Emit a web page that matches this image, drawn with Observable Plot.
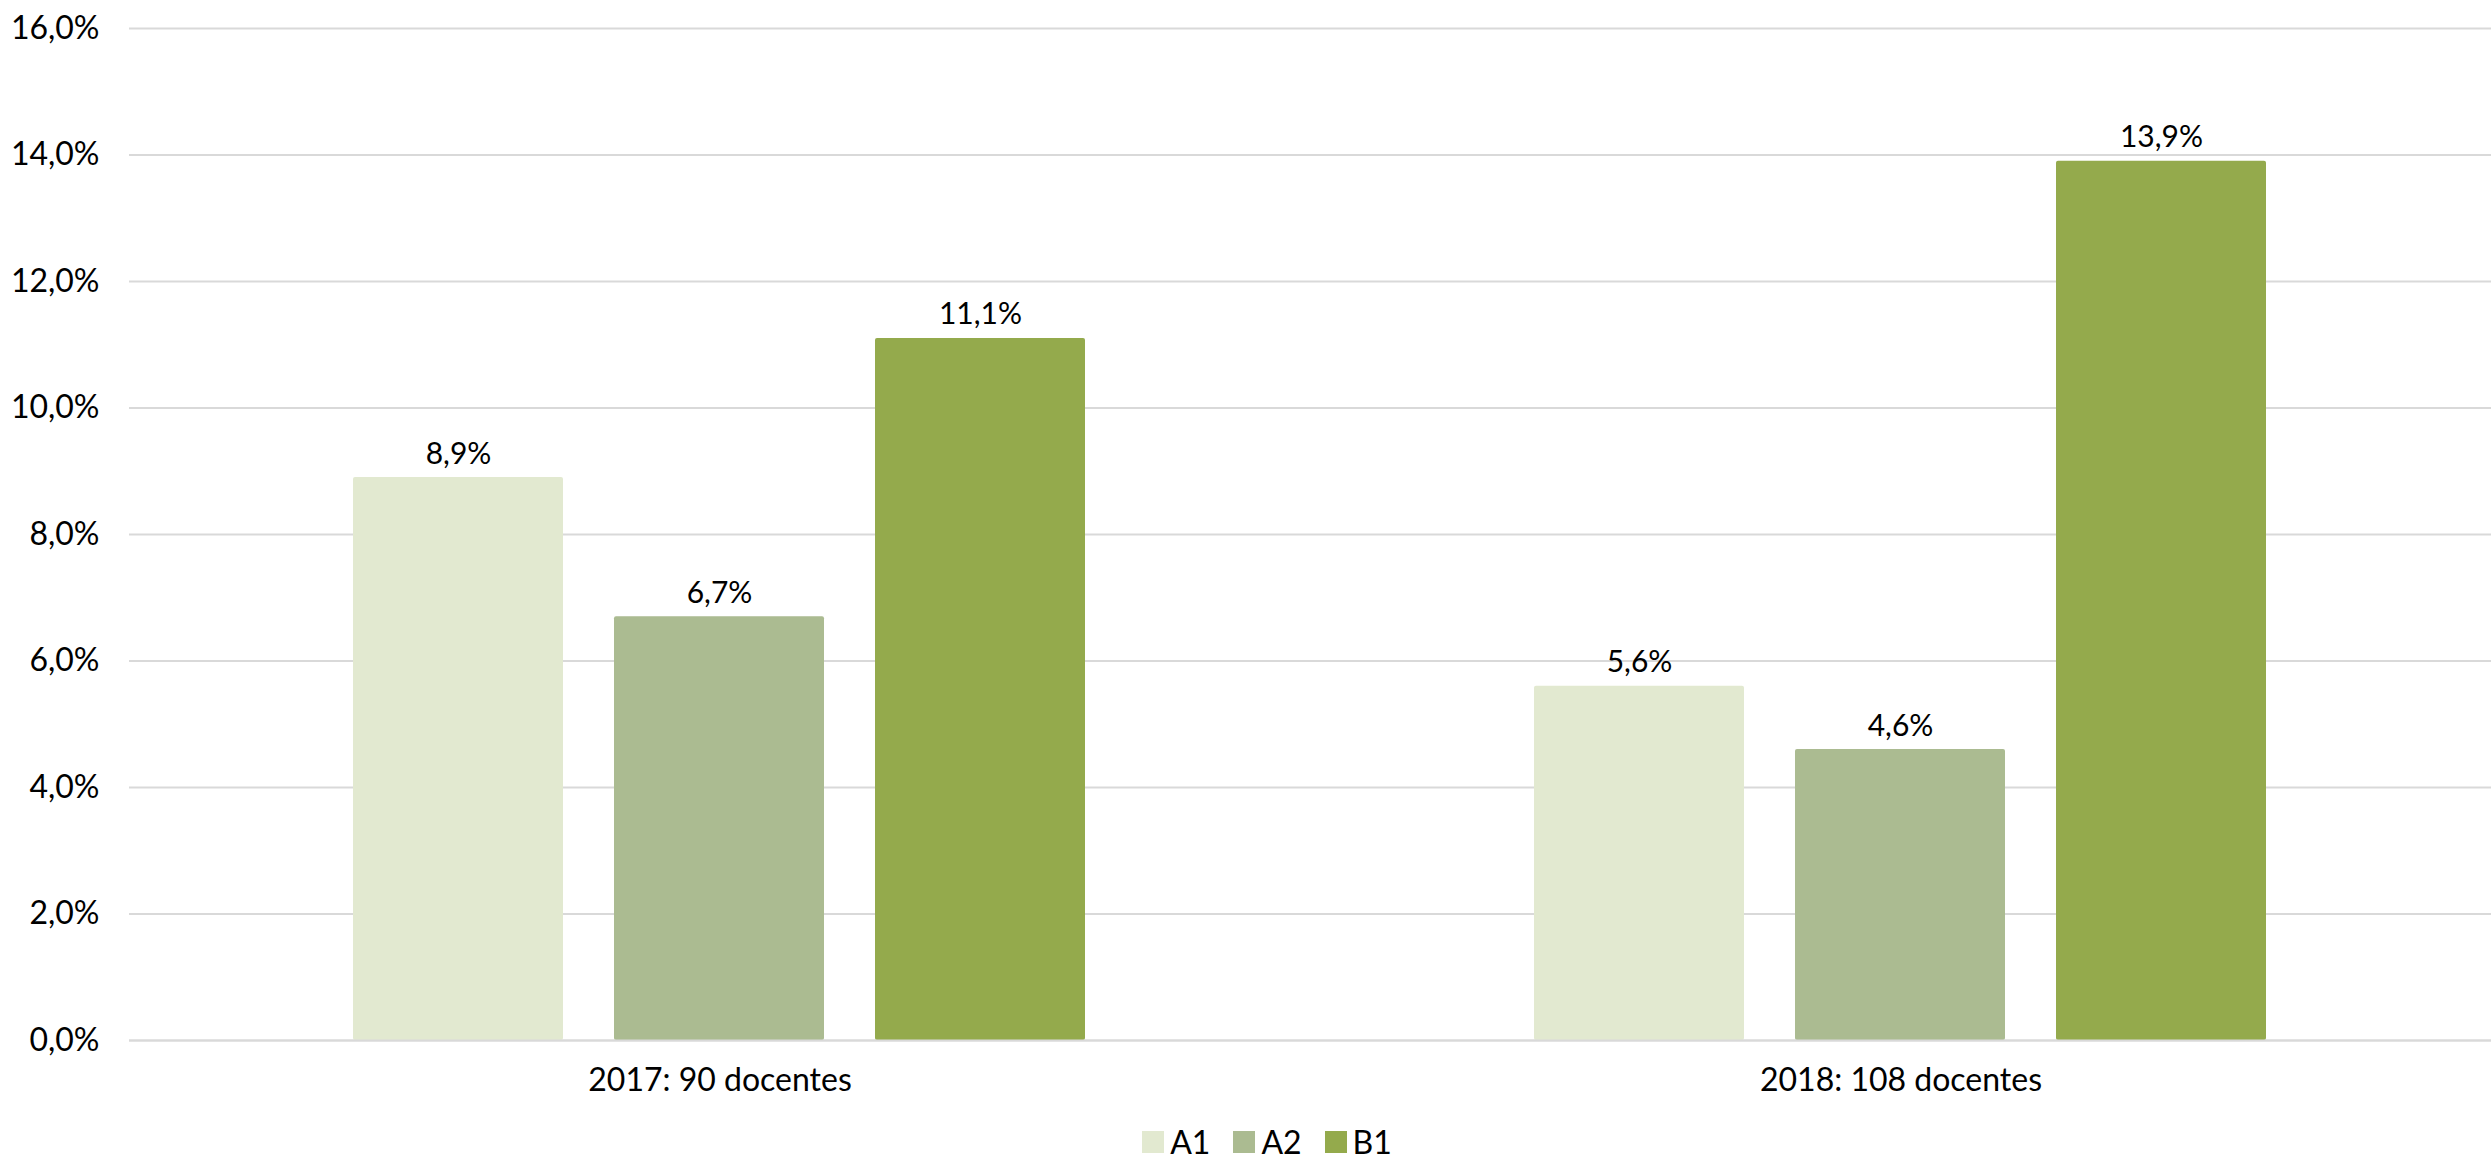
<!DOCTYPE html>
<html><head><meta charset="utf-8">
<script src="https://cdn.jsdelivr.net/npm/d3@7"></script>
<script src="https://cdn.jsdelivr.net/npm/@observablehq/plot@0.6"></script>
<style>
html,body{margin:0;padding:0;background:#fff;}
#chart svg{display:block;}
#legend{display:flex;justify-content:center;padding-left:66px;margin-top:12px;}
#legend > *{font-family:Lato,sans-serif !important;font-size:32px !important;color:#000 !important;margin:0 !important;}
#legend span{margin-right:23px !important;}
#legend span svg{margin-right:6px !important;}
</style></head><body><div id="chart"></div><div id="legend"></div>
<script>
const categories = ["2017: 90 docentes", "2018: 108 docentes"];
const levels = ["A1", "A2", "B1"];
const a1 = [8.9, 5.6];
const a2 = [6.7, 4.6];
const b1 = [11.1, 13.9];
const colors = ["#e2e9d0", "#abbb91", "#94aa4c"];
const yTicks = [0, 2, 4, 6, 8, 10, 12, 14, 16];

const series = [a1, a2, b1];
const data = categories.flatMap((c, i) => levels.map((l, j) => ({category: c, level: l, value: series[j][i]})));
const fmt = v => v.toFixed(1).replace(".", ",") + "%";

const chart = Plot.plot({
  width: 2491, height: 1110,
  marginTop: 28, marginBottom: 70, marginLeft: 129, marginRight: 0,
  style: {fontFamily: "Lato, sans-serif", fontSize: "32px", color: "#000", background: "#fff", overflow: "visible"},
  fx: {domain: categories, padding: 0, label: null, tickSize: 0, tickPadding: 28, axis: "bottom"},
  x: {domain: levels, paddingInner: 0.195, paddingOuter: 0.852, align: 0.5, axis: null},
  y: {domain: [0, 16], ticks: yTicks, tickFormat: d => d.toFixed(1).replace(".", ",") + "%", tickSize: 0, tickPadding: 30, label: null},
  color: {domain: levels, range: colors},
  marks: [
    Plot.ruleY(yTicks, {stroke: "#d9d9d9", strokeWidth: 2}),
    Plot.barY(data, {fx: "category", x: "level", y: "value", fill: "level", rx: 2}),
    Plot.ruleY([0], {stroke: "#d9d9d9", strokeWidth: 2}),
    Plot.text(data, {fx: "category", x: "level", y: "value", text: d => fmt(d.value), dy: -14, lineAnchor: "bottom", fontSize: 30, fill: "#000"})
  ]
});
document.getElementById("chart").appendChild(chart);

const legend = Plot.legend({color: {domain: levels, range: colors}, legend: "swatches", swatchSize: 22, style: {fontFamily: "Lato, sans-serif", fontSize: "32px"}});
document.getElementById("legend").appendChild(legend);
</script></body></html>
